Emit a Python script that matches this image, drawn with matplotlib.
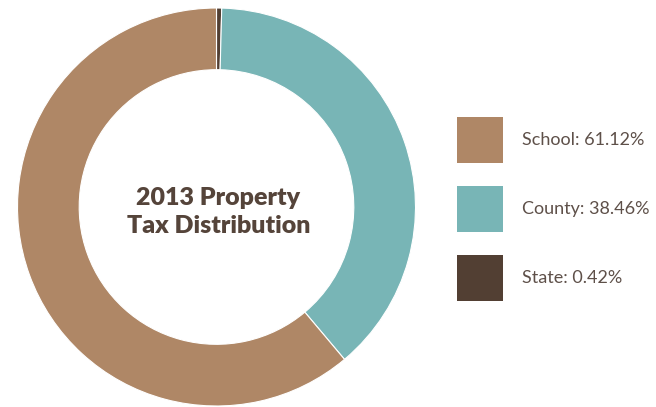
import matplotlib.pyplot as plt
from matplotlib.patches import Rectangle

# data
labels = ["State", "County", "School"]
shares = [0.42, 38.46, 61.12]
colors = ["#523f33", "#78b5b6", "#af8766"]
legend_order = ["School", "County", "State"]
title_text = "2013 Property\nTax Distribution"

W, H = 656, 407
fig = plt.figure(figsize=(W / 100, H / 100), dpi=100)
ax = fig.add_axes([0, 0, 1, 1])
ax.set_xlim(0, W)
ax.set_ylim(0, H)
ax.set_aspect("equal")
ax.axis("off")

cx, cy, R = 216.5, H - 207, 199
ax.pie(shares, colors=colors, startangle=90, counterclock=False,
       center=(cx, cy), radius=R, frame=True,
       wedgeprops=dict(width=R * 0.31, edgecolor="white", linewidth=0.8))
ax.set_xlim(0, W)
ax.set_ylim(0, H)
ax.axis("off")

ax.text(cx + 2, H - 212, title_text, ha="center", va="center", fontsize=18,
        fontweight="heavy", family="Lato", color="#55443a", linespacing=1.32)

# legend drawn by hand
col = dict(zip(labels, colors))
val = dict(zip(labels, shares))
for i, name in enumerate(legend_order):
    top = 117 + i * 69
    ax.add_patch(Rectangle((457, H - top - 46), 46, 46, color=col[name], lw=0))
    ax.text(522, H - top - 23, f"{name}: {val[name]:.2f}%", ha="left", va="center",
            fontsize=13, family="Lato", color="#5e5049")

fig.savefig("out.png", dpi=100)
